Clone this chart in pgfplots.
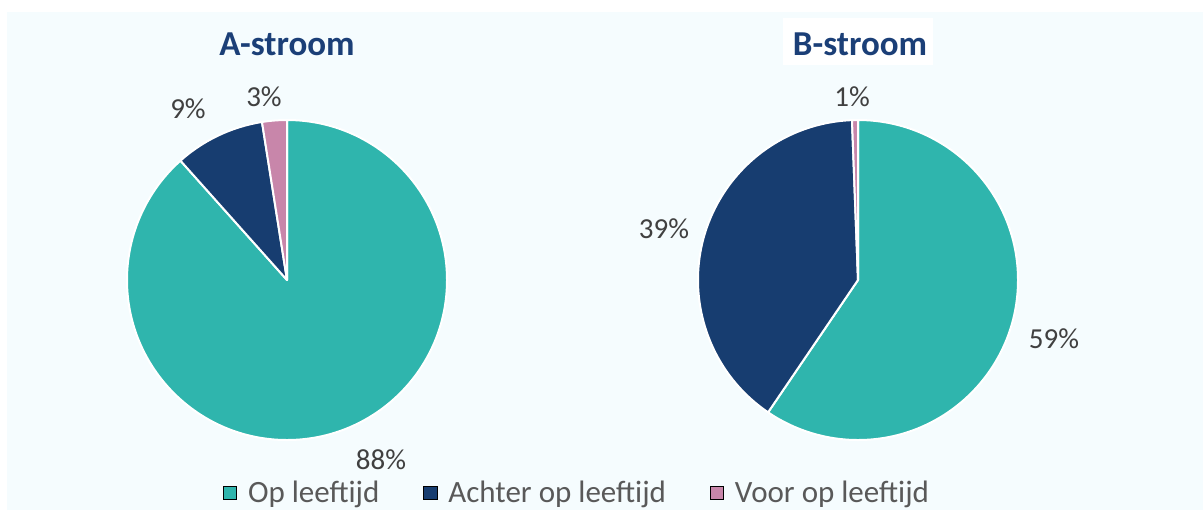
\documentclass[border=0pt]{standalone}
\usepackage{pgfplots}
\pgfplotsset{compat=1.18}
\usepackage{pgfplotstable}
\usepackage{fontspec}
\setmainfont{Carlito}

\definecolor{opcol}{HTML}{2FB5AD}
\definecolor{achtercol}{HTML}{173D70}
\definecolor{voorcol}{HTML}{C886AA}
\definecolor{titleblue}{HTML}{1B3F77}
\definecolor{bgcol}{HTML}{F5FCFE}
\definecolor{labgray}{HTML}{404040}
\definecolor{leggray}{HTML}{595959}

\newcommand\titlefont{\bfseries\fontsize{17.5}{21}\selectfont}
\newcommand\labfont{\fontsize{14.5}{17}\selectfont}

% A-stroom
\pgfplotstableread[col sep=comma]{
cat,value,col,lab,lx,ly
Op leeftijd,88.4,opcol,88,381,469
Achter op leeftijd,9.1,achtercol,9,188,118
Voor op leeftijd,2.5,voorcol,3,264,106
}\pieA
% B-stroom
\pgfplotstableread[col sep=comma]{
cat,value,col,lab,lx,ly
Op leeftijd,59.5,opcol,59,1054,348
Achter op leeftijd,39.9,achtercol,39,664,238
Voor op leeftijd,0.6,voorcol,1,852,106
}\pieB

\pgfplotstablecreatecol[expr accum={\pgfmathaccuma + \thisrow{value}}{0}]{cum}\pieA
\pgfplotstablecreatecol[expr accum={\pgfmathaccuma + \thisrow{value}}{0}]{cum}\pieB

\newcommand\pieslice[4]{%
  \pgfplotstablegetelem{#2}{value}\of#1\let\pv\pgfplotsretval
  \pgfplotstablegetelem{#2}{cum}\of#1\let\pc\pgfplotsretval
  \pgfplotstablegetelem{#2}{col}\of#1\let\pcol\pgfplotsretval
  \pgfmathsetmacro\psa{90-3.6*(\pc-\pv)}%
  \pgfmathsetmacro\pea{90-3.6*\pc}%
  \edef\ptemp{\noexpand\fill[\pcol,draw=white,line width=1pt,line join=round]
    (axis cs:#3,#4) -- ++(\psa:80pt) arc[start angle=\psa,end angle=\pea,radius=80pt] -- cycle;}%
  \ptemp
}
\newcommand\pielabel[2]{%
  \pgfplotstablegetelem{#2}{lab}\of#1\let\plab\pgfplotsretval
  \pgfplotstablegetelem{#2}{lx}\of#1\let\plx\pgfplotsretval
  \pgfplotstablegetelem{#2}{ly}\of#1\let\ply\pgfplotsretval
  \edef\ptemp{\noexpand\node[anchor=base,text=labgray,font=\noexpand\labfont,inner sep=0pt]
    at (axis cs:\plx,\ply) {\plab\noexpand\%};}%
  \ptemp
}

\begin{document}
\begin{tikzpicture}
\begin{axis}[
  hide axis, scale only axis,
  width=601.5pt, height=255pt,
  xmin=0, xmax=1203, ymin=0, ymax=510,
  y dir=reverse, clip=false,
  legend image code/.code={\fill[#1] (0pt,-3.3pt) rectangle (6.6pt,3.3pt);},
  legend style={draw=none, fill=none, at={(axis cs:223,493)}, anchor=west,
    legend columns=-1, inner sep=0pt, outer sep=0pt,
    font=\fontsize{15.5}{18}\selectfont, text=leggray,
    nodes={inner sep=0pt},
    /tikz/every odd column/.append style={column sep=5.5pt},
    /tikz/every even column/.append style={column sep=22pt}},
]
\fill[white] (axis cs:0,0) rectangle (axis cs:1203,510);
\fill[bgcol] (axis cs:7,12) rectangle (axis cs:1203,510);

\pgfplotsinvokeforeach{0,1,2}{\pieslice{\pieA}{#1}{287}{280}\pielabel{\pieA}{#1}}
\pgfplotsinvokeforeach{0,1,2}{\pieslice{\pieB}{#1}{858}{280}\pielabel{\pieB}{#1}}

\node[font=\titlefont,text=titleblue,anchor=base,inner sep=0pt] at (axis cs:287,55) {A-stroom};
\fill[white] (axis cs:783,18) rectangle (axis cs:933,65);
\node[font=\titlefont,text=titleblue,anchor=base,inner sep=0pt] at (axis cs:860,55) {B-stroom};

\addlegendimage{fill=opcol}\addlegendentry{Op leeftijd}
\addlegendimage{fill=achtercol}\addlegendentry{Achter op leeftijd}
\addlegendimage{fill=voorcol}\addlegendentry{Voor op leeftijd}
\end{axis}
\end{tikzpicture}
\end{document}
